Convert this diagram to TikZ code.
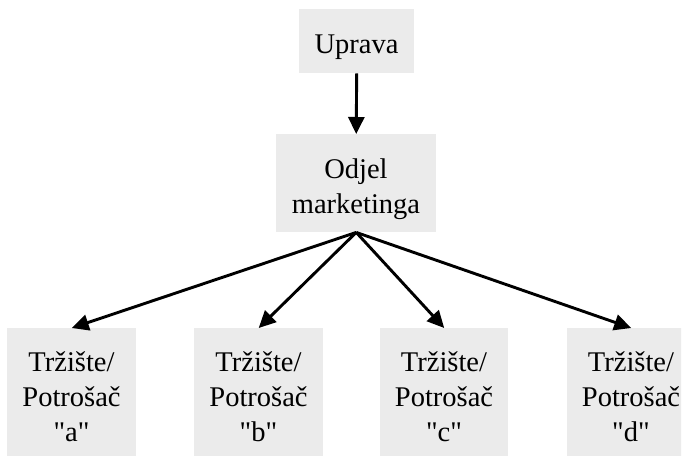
\documentclass[tikz,border=0pt]{standalone}
\usepackage{fontspec}
\setmainfont{Liberation Serif}[Ligatures=TeXOff]
\usetikzlibrary{arrows.meta}
\definecolor{boxgray}{RGB}{235,235,235}
\tikzset{
  box/.style={fill=boxgray, draw=none, inner sep=0pt, anchor=north west},
  lbl/.style={font=\fontsize{28.5}{35}\selectfont, align=center, inner sep=0pt, anchor=base},
  conn/.style={line width=2.9pt, -{Triangle[length=17pt,width=16pt]}}
}
\begin{document}
\begin{tikzpicture}[x=1pt,y=-1pt]
\useasboundingbox (0,0) rectangle (683,456);
\begin{scope}
\clip (0,0) rectangle (681,455);
\node[box, minimum width=115pt, minimum height=64pt] (up) at (299,9) {};
\node[box, minimum width=160pt, minimum height=98pt] (od) at (276,134) {};
\node[box, minimum width=129pt, minimum height=133pt] (ma) at (7,328) {};
\node[box, minimum width=129pt, minimum height=133pt] (mb) at (194,328) {};
\node[box, minimum width=128pt, minimum height=133pt] (mc) at (380,328) {};
\node[box, minimum width=128pt, minimum height=133pt] (md) at (567,328) {};
\end{scope}
\node[lbl] (tup) at (356.5,53) {Uprava};
\node[lbl] (tod) at (356,213) {Odjel\\marketinga};
\node[lbl] (tma) at (71.5,441) {Tržište/\\Potrošač\\"a"};
\node[lbl] (tmb) at (258.5,441) {Tržište/\\Potrošač\\"b"};
\node[lbl] (tmc) at (444,441) {Tržište/\\Potrošač\\"c"};
\node[lbl] (tmd) at (631,441) {Tržište/\\Potrošač\\"d"};
\draw[conn] (up.south) -- (od.north);
\draw[conn] (od.south) -- (ma.north);
\draw[conn] (od.south) -- (mb.north);
\draw[conn] (od.south) -- (mc.north);
\draw[conn] (od.south) -- (md.north);
\end{tikzpicture}
\end{document}
